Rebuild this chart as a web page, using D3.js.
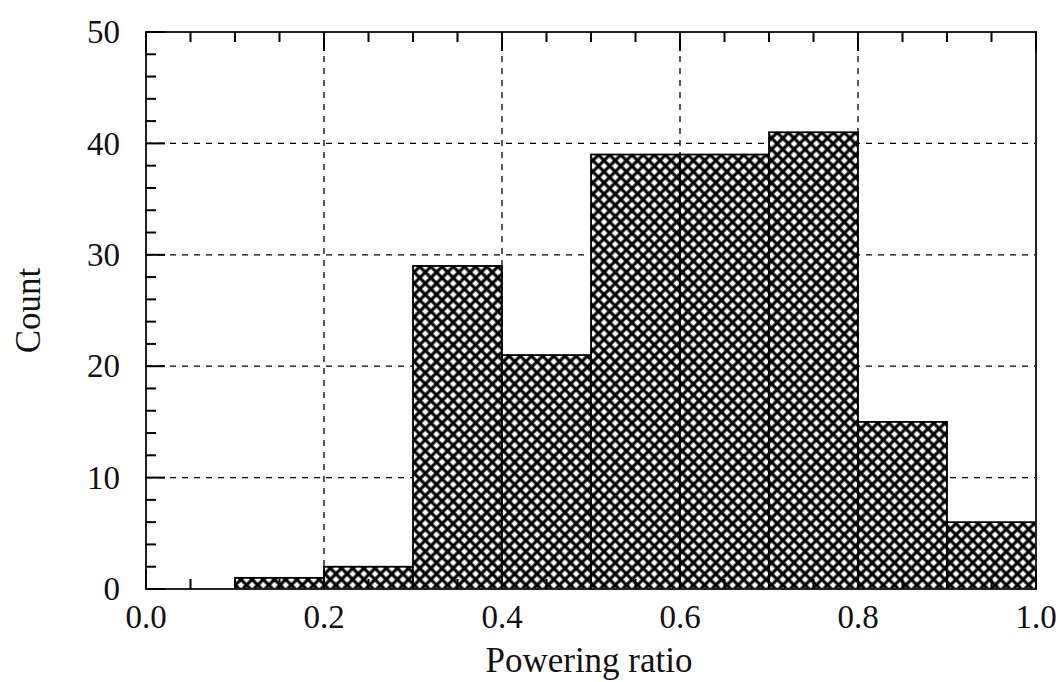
<!DOCTYPE html>
<html>
<head>
<meta charset="utf-8">
<title>Powering ratio histogram</title>
<script src="https://d3js.org/d3.v7.min.js"></script>
<style>
  body { margin: 0; background: #fff; }
  text { font-family: "Liberation Serif", "Times New Roman", serif; fill: #111; }
</style>
</head>
<body>
<div id="chart"></div>
<script>
// histogram bins (lower edge) and counts
var binStarts = [0.1, 0.2, 0.3, 0.4, 0.5, 0.6, 0.7, 0.8, 0.9];
var binWidth = 0.1;
var counts = [1, 2, 29, 21, 39, 39, 41, 15, 6];
var xTicks = [0.0, 0.2, 0.4, 0.6, 0.8, 1.0];
var yTicks = [0, 10, 20, 30, 40, 50];

var width = 1058, height = 682;
var margin = {top: 32, right: 22, bottom: 93, left: 146};
var plotW = width - margin.left - margin.right;
var plotH = height - margin.top - margin.bottom;

var svg = d3.select('#chart').append('svg')
    .attr('width', width)
    .attr('height', height);

// crosshatch fill, lines kept in the middle of the tile so they are not clipped
var cell = 7.9;
var defs = svg.append('defs');
var pat = defs.append('pattern')
    .attr('id', 'hatch')
    .attr('patternUnits', 'userSpaceOnUse')
    .attr('width', cell)
    .attr('height', cell)
    .attr('patternTransform', 'rotate(45)');
pat.append('rect').attr('width', cell).attr('height', cell).attr('fill', '#fff');
pat.append('line').attr('x1', cell / 2).attr('y1', 0).attr('x2', cell / 2).attr('y2', cell)
    .attr('stroke', '#000').attr('stroke-width', 3.1);
pat.append('line').attr('x1', 0).attr('y1', cell / 2).attr('x2', cell).attr('y2', cell / 2)
    .attr('stroke', '#000').attr('stroke-width', 3.1);

var g = svg.append('g')
    .attr('transform', `translate(${margin.left},${margin.top})`);

var x = d3.scaleLinear().domain([0, 1]).range([0, plotW]);
var y = d3.scaleLinear().domain([0, 50]).range([plotH, 0]);

// dashed grid
g.selectAll('.vgrid')
    .data(xTicks.slice(1, -1))
    .enter().append('line')
        .attr('x1', d => x(d)).attr('x2', d => x(d))
        .attr('y1', 0).attr('y2', plotH)
        .attr('stroke', '#000').attr('stroke-width', 1.3)
        .attr('stroke-dasharray', '6,6');
g.selectAll('.hgrid')
    .data(yTicks.slice(1, -1))
    .enter().append('line')
        .attr('y1', d => y(d)).attr('y2', d => y(d))
        .attr('x1', 0).attr('x2', plotW)
        .attr('stroke', '#000').attr('stroke-width', 1.3)
        .attr('stroke-dasharray', '6,6');

// bars
g.selectAll('.bar')
    .data(binStarts.map((s, i) => ({s: s, c: counts[i]})))
    .enter().append('rect')
        .attr('x', d => x(d.s))
        .attr('width', x(binWidth) - x(0))
        .attr('y', d => y(d.c))
        .attr('height', d => y(0) - y(d.c))
        .attr('fill', 'url(#hatch)')
        .attr('stroke', '#000')
        .attr('stroke-width', 1.8);

// frame
g.append('rect')
    .attr('width', plotW).attr('height', plotH)
    .attr('fill', 'none').attr('stroke', '#222').attr('stroke-width', 2);

// inward ticks
var xMinor = d3.range(0, 1.0001, 0.05);
var yMinor = d3.range(0, 50.001, 2);
function isMajorX(v) { return Math.abs(v * 5 - Math.round(v * 5)) < 1e-6; }
function isMajorY(v) { return v % 10 === 0; }

g.selectAll('.xtickB')
    .data(xMinor)
    .enter().append('line')
        .attr('x1', d => x(d)).attr('x2', d => x(d))
        .attr('y1', plotH).attr('y2', d => plotH - (isMajorX(d) ? 19 : 10))
        .attr('stroke', '#000').attr('stroke-width', 2);
g.selectAll('.xtickT')
    .data(xMinor)
    .enter().append('line')
        .attr('x1', d => x(d)).attr('x2', d => x(d))
        .attr('y1', 0).attr('y2', d => (isMajorX(d) ? 19 : 10))
        .attr('stroke', '#000').attr('stroke-width', 2);
g.selectAll('.ytick')
    .data(yMinor)
    .enter().append('line')
        .attr('y1', d => y(d)).attr('y2', d => y(d))
        .attr('x1', 0).attr('x2', d => (isMajorY(d) ? 19 : 10))
        .attr('stroke', '#000').attr('stroke-width', 2);

// tick labels
g.selectAll('.xlab')
    .data(xTicks)
    .enter().append('text')
        .attr('x', d => x(d))
        .attr('y', plotH + 39)
        .attr('text-anchor', 'middle')
        .style('font-size', '33px')
        .text(d => d.toFixed(1));
g.selectAll('.ylab')
    .data(yTicks)
    .enter().append('text')
        .attr('x', -26)
        .attr('y', d => y(d))
        .attr('dy', '0.34em')
        .attr('text-anchor', 'end')
        .style('font-size', '33px')
        .text(d => d);

// axis titles
svg.append('text')
    .attr('x', margin.left + plotW / 2 - 2)
    .attr('y', 672)
    .attr('text-anchor', 'middle')
    .style('font-size', '35px')
    .text('Powering ratio');
svg.append('text')
    .attr('transform', `translate(40,${margin.top + plotH / 2}) rotate(-90)`)
    .attr('text-anchor', 'middle')
    .style('font-size', '35px')
    .text('Count');
</script>
</body>
</html>
